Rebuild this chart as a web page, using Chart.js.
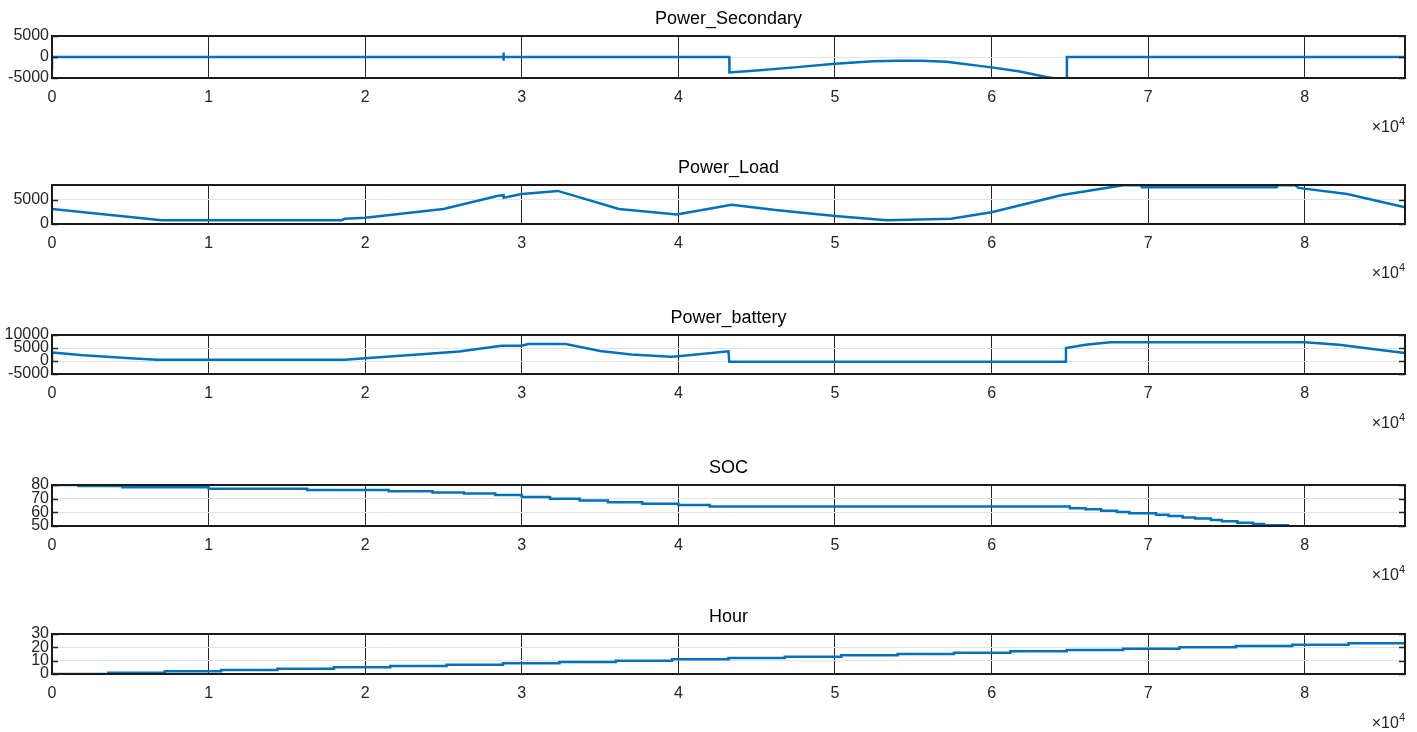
<!DOCTYPE html>
<html>
<head>
<meta charset="utf-8">
<script src="https://cdn.jsdelivr.net/npm/chart.js@4.4.1/dist/chart.umd.min.js"></script>
<style>
  html, body { margin: 0; padding: 0; background: #fff; overflow: hidden; }
  #wrap { position: relative; width: 1417px; height: 732px; }
  .panel { position: absolute; left: 0; width: 1417px; height: 150px; }
</style>
</head>
<body>
<div id="wrap">
  <div class="panel" style="top:0px"><canvas id="c0" width="1417" height="150"></canvas></div>
  <div class="panel" style="top:149px"><canvas id="c1" width="1417" height="150"></canvas></div>
  <div class="panel" style="top:299px"><canvas id="c2" width="1417" height="150"></canvas></div>
  <div class="panel" style="top:449px"><canvas id="c3" width="1417" height="150"></canvas></div>
  <div class="panel" style="top:598px"><canvas id="c4" width="1417" height="150"></canvas></div>
</div>
<script>
// time axis (seconds), labels shown in units of 1e4
const X_TICKS = [0, 10000, 20000, 30000, 40000, 50000, 60000, 70000, 80000];

// Power_Secondary
const SEC_T = [0, 0, 28840, 28840, 28840, 28840, 43250, 43260, 45000, 47400, 50000, 52450, 54000, 55500, 57100, 60000, 61800, 63500, 64500, 64800, 64810, 86400];
const SEC_P = [-3200, 0, 0, 1100, -900, 0, 0, -3670, -3190, -2470, -1600, -1040, -880, -900, -1120, -2470, -3430, -4760, -5400, -5400, 0, 0];

// Power_Load
const LOAD_T = [0, 7000, 18500, 18700, 20000, 25000, 28500, 28840, 28840, 30000, 32300, 36200, 39900, 43400, 46200, 50000, 53300, 57400, 60000, 64500, 68400, 69500, 69600, 78200, 78300, 79400, 79600, 82700, 86400];
const LOAD_P = [3070, 790, 790, 1070, 1290, 3070, 5800, 5900, 5400, 6140, 6790, 3070, 1930, 3930, 2860, 1640, 790, 1070, 2430, 5930, 7950, 7950, 7550, 7550, 7950, 7950, 7400, 6140, 3430];

// Power_battery
const BAT_T = [0, 0, 2000, 5000, 6700, 18700, 20000, 23600, 26000, 28700, 30000, 30400, 32800, 35000, 37000, 39500, 40000, 43200, 43250, 64700, 64750, 66000, 67600, 80000, 82200, 84200, 86400];
const BAT_P = [0, 3260, 2200, 1040, 520, 520, 1040, 2600, 3650, 5870, 5870, 6520, 6520, 3870, 2500, 1620, 1870, 3750, -250, -250, 5000, 6250, 7200, 7200, 6250, 4750, 3120];

// SOC (held until next sample)
const SOC_T = [0, 1700, 4500, 10000, 16300, 21500, 24300, 26300, 28300, 30000, 31800, 33700, 35500, 37700, 40000, 42000, 65000, 66000, 67000, 68000, 68800, 70500, 71300, 72200, 73000, 74000, 74700, 75700, 76700, 77400, 79000];
const SOC_V = [80, 79.2, 78.3, 77.3, 76.4, 75.4, 74.6, 73.7, 72.6, 71.3, 69.9, 68.6, 67.4, 66.3, 65.4, 64.3, 63.0, 62.2, 61.2, 60.2, 59.3, 58.3, 57.3, 56.3, 55.4, 54.4, 53.4, 52.4, 51.5, 50.5, 50.5];

// Hour (held until next sample)
const HOUR_T = [0, 3600, 7200, 10800, 14400, 18000, 21600, 25200, 28800, 32400, 36000, 39600, 43200, 46800, 50400, 54000, 57600, 61200, 64800, 68400, 72000, 75600, 79200, 82800, 86400];
const HOUR_V = [0, 1, 2, 3, 4, 5, 6, 7, 8, 9, 10, 11, 12, 13, 14, 15, 16, 17, 18, 19, 20, 21, 22, 23, 23];

const BLUE = '#0072BD';
const FONT = "'Liberation Sans', Arial, sans-serif";

const frame = {
  id: 'frame',
  afterDraw(chart, args, opts) {
    const { ctx, chartArea: a } = chart;
    const y = chart.scales.y;
    ctx.save();
    // short inner tick marks on both sides
    ctx.strokeStyle = '#262626';
    ctx.lineWidth = 1.5;
    y.ticks.forEach(t => {
      const py = Math.round(y.getPixelForValue(t.value)) + 0.5;
      ctx.beginPath();
      ctx.moveTo(a.left, py); ctx.lineTo(a.left + 6, py);
      ctx.moveTo(a.right - 6, py); ctx.lineTo(a.right, py);
      ctx.stroke();
    });
    // box
    ctx.lineWidth = 2;
    ctx.strokeStyle = '#1a1a1a';
    ctx.strokeRect(a.left, a.top, a.right - a.left, a.bottom - a.top);
    // title
    ctx.fillStyle = '#000';
    ctx.font = '18px ' + FONT;
    ctx.textAlign = 'center';
    ctx.textBaseline = 'middle';
    ctx.fillText(opts.title, (a.left + a.right) / 2, a.top - 17);
    // exponent label
    ctx.fillStyle = '#262626';
    ctx.textAlign = 'right';
    ctx.font = '11px ' + FONT;
    ctx.fillText('4', a.right, a.bottom + 44);
    const w4 = ctx.measureText('4').width;
    ctx.font = '16px ' + FONT;
    ctx.fillText('\u00d710', a.right - w4, a.bottom + 50);
    ctx.restore();
  }
};

function toPoints(ts, vs) {
  return ts.map((t, i) => ({ x: t, y: vs[i] }));
}

function makePanel(id, title, points, yMin, yMax, yTicks, plotH, stepped) {
  new Chart(document.getElementById(id), {
    type: 'line',
    data: {
      datasets: [{
        data: points,
        borderColor: BLUE,
        borderWidth: 2.5,
        pointRadius: 0,
        tension: 0,
        stepped: stepped,
        fill: false,
      }]
    },
    options: {
      responsive: false,
      animation: false,
      layout: { padding: { top: 36, right: 12, left: 0, bottom: 0 } },
      plugins: {
        legend: { display: false },
        tooltip: { enabled: false },
        frame: { title: title },
      },
      scales: {
        x: {
          type: 'linear',
          min: 0,
          max: 86400,
          afterBuildTicks: s => { s.ticks = X_TICKS.map(v => ({ value: v })); },
          afterFit: s => { s.height = 150 - 36 - plotH; },
          ticks: {
            callback: v => String(v / 10000),
            padding: 10,
            autoSkip: false,
            maxRotation: 0,
            color: '#262626',
            font: { family: FONT, size: 16 },
          },
          grid: { color: '#262626', lineWidth: 1, drawTicks: false },
          border: { display: false },
        },
        y: {
          min: yMin,
          max: yMax,
          afterBuildTicks: s => { s.ticks = yTicks.map(v => ({ value: v })); },
          afterFit: s => { s.width = 52; },
          ticks: {
            callback: v => String(v),
            padding: 3,
            autoSkip: false,
            color: '#262626',
            font: { family: FONT, size: 16 },
          },
          grid: { color: '#e3e3e3', lineWidth: 1, drawTicks: false },
          border: { display: false },
        }
      }
    },
    plugins: [frame]
  });
}

makePanel('c0', 'Power_Secondary', toPoints(SEC_T, SEC_P), -5000, 5000, [-5000, 0, 5000], 42, false);
makePanel('c1', 'Power_Load', toPoints(LOAD_T, LOAD_P), 0, 8000, [0, 5000], 39, false);
makePanel('c2', 'Power_battery', toPoints(BAT_T, BAT_P), -5000, 10000, [-5000, 0, 5000, 10000], 39, false);
makePanel('c3', 'SOC', toPoints(SOC_T, SOC_V), 50, 80, [50, 60, 70, 80], 41, true);
makePanel('c4', 'Hour', toPoints(HOUR_T, HOUR_V), 0, 30, [0, 10, 20, 30], 40, true);
</script>
</body>
</html>
